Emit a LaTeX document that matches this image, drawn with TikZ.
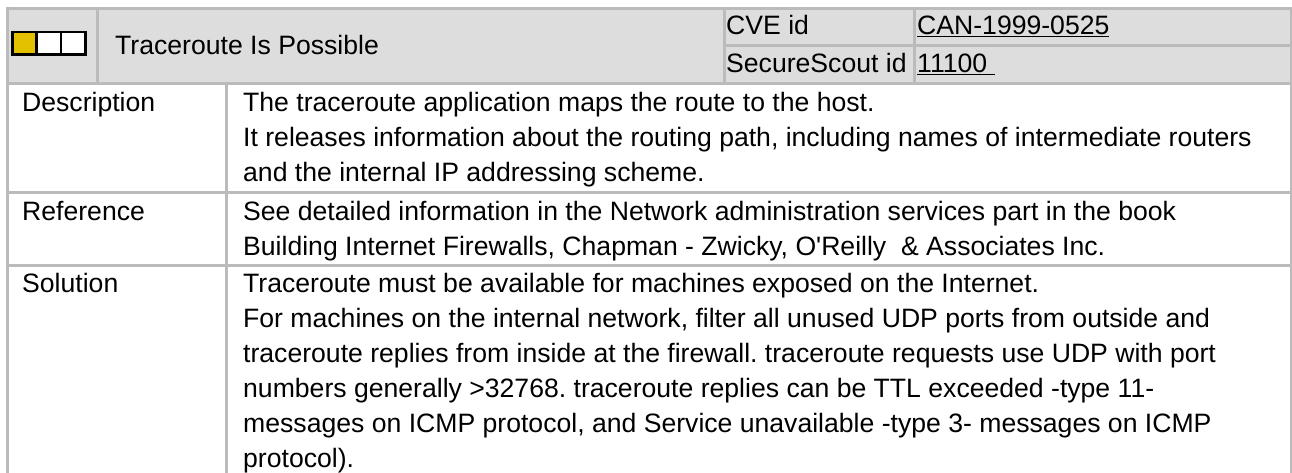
\documentclass[tikz,border=0pt]{standalone}
\usepackage{fontspec}
\setmainfont{Liberation Sans}
\definecolor{hdrfill}{RGB}{221,221,221}
\definecolor{gridline}{RGB}{187,187,187}
\definecolor{sevyellow}{RGB}{228,193,0}
\frenchspacing
\begin{document}
\begin{tikzpicture}[x=1pt,y=-1pt,
  txt/.style={anchor=base west, inner sep=0pt, font=\fontsize{26.6}{30}\selectfont},
  gridln/.style={draw=gridline, line width=3pt},
  edgeln/.style={draw=gridline, line width=1.5pt}]
\useasboundingbox (0,0) rectangle (1292,473);
\fill[white] (0,0) rectangle (1292,473);
% header
\fill[hdrfill] (7.5,8.5) rectangle (1291,84);
\draw[gridln] (6,8.5) -- (1292,8.5);
\draw[gridln] (7.5,7) -- (7.5,473);
\draw[gridln] (6,84) -- (1292,84);
\draw[gridln] (97,8.5) -- (97,84);
\draw[gridln] (724,8.5) -- (724,84);
\draw[gridln] (914,8.5) -- (914,84);
\draw[gridln] (724,46) -- (1292,46);
% body
\draw[gridln] (226,84) -- (226,473);
\draw[gridln] (6,192.5) -- (1292,192.5);
\draw[gridln] (6,265.8) -- (1292,265.8);
\draw[edgeln] (1291,8.5) -- (1291,473);
% severity icon
\fill[black] (11,31) rectangle (87.3,55.7);
\fill[sevyellow] (14,33.3) rectangle (35,53.3);
\fill[white] (37.7,33.3) rectangle (60,53.3);
\fill[white] (62.3,33.3) rectangle (84.3,53.3);
% header texts
\node[txt] (title) at (115,55) {Traceroute Is Possible};
\node[txt] (cvelbl) at (726,35) {CVE id};
\node[txt] (cveval) at (917,35) {\underline{CAN-1999-0525}};
\node[txt] (sslbl) at (726,73) {SecureScout id};
\node[txt] (ssval) at (917,73) {\underline{11100\ }};
% labels
\node[txt] (desclbl) at (22,112) {Description};
\node[txt] (reflbl) at (22,220) {Reference};
\node[txt] (sollbl) at (22,292) {Solution};
% description
\node[txt] (d1) at (243,112) {The traceroute application maps the route to the host.};
\node[txt] (d2) at (243,147) {It releases information about the routing path, including names of intermediate routers};
\node[txt] (d3) at (243,182) {and the internal IP addressing scheme.};
% reference
\node[txt] (r1) at (243,220) {See detailed information in the Network administration services part in the book};
\node[txt] (r2) at (243,255) {Building Internet Firewalls, Chapman - Zwicky, O\textquotesingle Reilly \ \& Associates Inc.};
% solution
\node[txt] (s1) at (243,292) {Traceroute must be available for machines exposed on the Internet.};
\node[txt] (s2) at (243,327) {For machines on the internal network, filter all unused UDP ports from outside and};
\node[txt] (s3) at (243,362) {traceroute replies from inside at the firewall. traceroute requests use UDP with port};
\node[txt] (s4) at (243,397) {numbers generally >32768. traceroute replies can be TTL exceeded -type 11-};
\node[txt] (s5) at (243,432) {messages on ICMP protocol, and Service unavailable -type 3- messages on ICMP};
\node[txt] (s6) at (243,467) {protocol).};
\end{tikzpicture}
\end{document}
